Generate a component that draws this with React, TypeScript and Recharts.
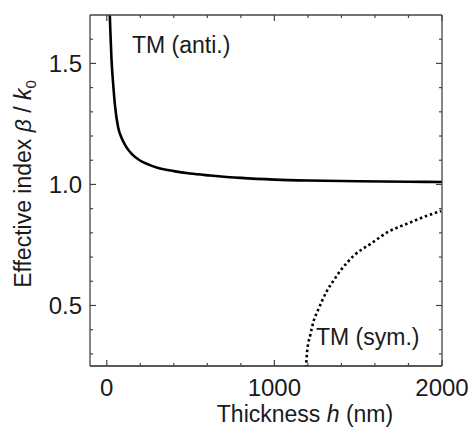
import { LineChart, Line, XAxis, YAxis, Customized } from 'recharts';

// TM (anti.) branch — thickness (nm) vs effective index
const antiH = [12, 18, 22, 28, 38, 50, 68, 90, 118, 150, 198, 250, 297, 400, 497, 617, 800, 1000, 1200, 1500, 1800, 2000];
const antiN = [1.82, 1.7, 1.624, 1.52, 1.417, 1.32, 1.235, 1.19, 1.153, 1.125, 1.099, 1.082, 1.07, 1.055, 1.045, 1.037, 1.027, 1.02, 1.016, 1.013, 1.011, 1.01];

// TM (sym.) branch
const symH = [1186, 1196, 1215, 1235, 1260, 1285, 1315, 1355, 1395, 1435, 1475, 1525, 1575, 1625, 1675, 1745, 1814, 1900, 1994];
const symN = [0.22, 0.314, 0.38, 0.438, 0.48, 0.52, 0.562, 0.605, 0.645, 0.678, 0.707, 0.733, 0.755, 0.78, 0.803, 0.825, 0.844, 0.868, 0.89];

const xTicks = [0, 200, 400, 600, 800, 1000, 1200, 1400, 1600, 1800, 2000];
const xMajor = [0, 1000, 2000];
const yTicks = [0.3, 0.4, 0.5, 0.6, 0.7, 0.8, 0.9, 1.0, 1.1, 1.2, 1.3, 1.4, 1.5, 1.6];
const yMajor = [0.5, 1.0, 1.5];

const antiData = antiH.map((h, i) => ({ h, n: antiN[i] }));
const symData = symH.map((h, i) => ({ h, n: symN[i] }));

const FONT = '"Liberation Sans", Arial, sans-serif';
const AXIS = '#444';
const INK = '#1a1a1a';

const isMajor = (list: number[], v: number) => list.some((m) => Math.abs(m - v) < 1e-6);

// ticks point into the plot; labels only on the major ones
function BottomTick(props: any) {
  const { x, y, payload } = props;
  const major = isMajor(xMajor, payload.value);
  return (
    <g>
      <line x1={x} x2={x} y1={y} y2={y - (major ? 6 : 3)} stroke={AXIS} strokeWidth={1.2} />
      {major && (
        <text x={x} y={y + 29.5} textAnchor="middle" fontSize={24} fill={INK} fontFamily={FONT}>
          {payload.value}
        </text>
      )}
    </g>
  );
}

function TopTick(props: any) {
  const { x, y, payload } = props;
  const major = isMajor(xMajor, payload.value);
  return <line x1={x} x2={x} y1={y} y2={y + (major ? 6 : 3)} stroke={AXIS} strokeWidth={1.2} />;
}

function LeftTick(props: any) {
  const { x, y, payload } = props;
  const major = isMajor(yMajor, payload.value);
  return (
    <g>
      <line x1={x} x2={x + (major ? 6 : 3)} y1={y} y2={y} stroke={AXIS} strokeWidth={1.2} />
      {major && (
        <text x={x - 8} y={y + 8.5} textAnchor="end" fontSize={24} fill={INK} fontFamily={FONT}>
          {payload.value.toFixed(1)}
        </text>
      )}
    </g>
  );
}

function RightTick(props: any) {
  const { x, y, payload } = props;
  const major = isMajor(yMajor, payload.value);
  return <line x1={x} x2={x - (major ? 6 : 3)} y1={y} y2={y} stroke={AXIS} strokeWidth={1.2} />;
}

function Annotations() {
  return (
    <g fontFamily={FONT} fill={INK}>
      <text x={132} y={53} fontSize={23}>TM (anti.)</text>
      <text x={316} y={345} fontSize={23}>TM (sym.)</text>
      <text x={305} y={422} fontSize={23} textAnchor="middle">
        Thickness <tspan fontStyle="italic">h</tspan> (nm)
      </text>
      <text x={31} y={184} fontSize={23} textAnchor="middle" transform="rotate(-90 31 184)">
        Effective index{'  '}
        <tspan fontStyle="italic">β</tspan> / <tspan fontStyle="italic">k</tspan>
        <tspan fontSize={15} dy={5}>0</tspan>
      </text>
    </g>
  );
}

export default function App() {
  return (
    <div style={{ position: 'absolute', left: 0, top: 0, width: 473, height: 428, background: '#fff' }}>
      <LineChart width={473} height={428} margin={{ top: 0, right: 0, bottom: 0, left: 0 }}>
        <XAxis
          xAxisId="bottom"
          type="number"
          dataKey="h"
          domain={[-100, 2000]}
          ticks={xTicks}
          interval={0}
          allowDataOverflow
          height={62}
          tickSize={0}
          tickMargin={0}
          tickLine={false}
          axisLine={{ stroke: '#222', strokeWidth: 1.5 }}
          tick={<BottomTick />}
        />
        <XAxis
          xAxisId="top"
          orientation="top"
          type="number"
          dataKey="h"
          domain={[-100, 2000]}
          ticks={xTicks}
          interval={0}
          allowDataOverflow
          height={15}
          tickSize={0}
          tickMargin={0}
          tickLine={false}
          axisLine={{ stroke: AXIS, strokeWidth: 1.3 }}
          tick={<TopTick />}
        />
        <YAxis
          yAxisId="left"
          type="number"
          dataKey="n"
          domain={[0.25, 1.7]}
          ticks={yTicks}
          interval={0}
          allowDataOverflow
          width={90}
          tickSize={0}
          tickMargin={0}
          tickLine={false}
          axisLine={{ stroke: AXIS, strokeWidth: 1.3 }}
          tick={<LeftTick />}
        />
        <YAxis
          yAxisId="right"
          orientation="right"
          type="number"
          dataKey="n"
          domain={[0.25, 1.7]}
          ticks={yTicks}
          interval={0}
          allowDataOverflow
          width={31}
          tickSize={0}
          tickMargin={0}
          tickLine={false}
          axisLine={{ stroke: AXIS, strokeWidth: 1.3 }}
          tick={<RightTick />}
        />
        <Line
          xAxisId="bottom"
          yAxisId="left"
          data={antiData}
          dataKey="n"
          type="monotone"
          stroke="#000"
          strokeWidth={2.6}
          dot={false}
          activeDot={false}
          isAnimationActive={false}
        />
        <Line
          xAxisId="bottom"
          yAxisId="left"
          data={symData}
          dataKey="n"
          type="monotone"
          stroke="#000"
          strokeWidth={2.6}
          strokeDasharray="2.5 2.8"
          dot={false}
          activeDot={false}
          isAnimationActive={false}
        />
        <Customized component={Annotations} />
      </LineChart>
    </div>
  );
}
